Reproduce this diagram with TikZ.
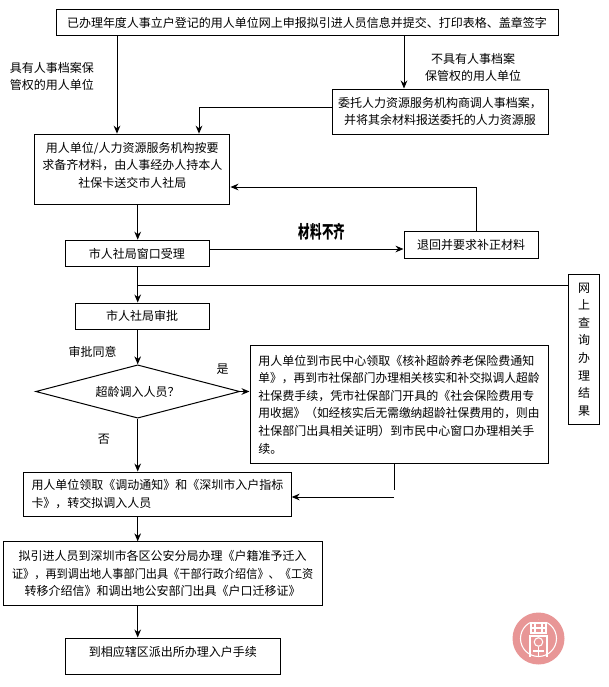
\documentclass[tikz,border=0pt]{standalone}
\usepackage{fontspec}
\setmainfont{Noto Sans CJK SC}
\usetikzlibrary{arrows.meta, shapes.geometric}

\definecolor{sealcolor}{RGB}{232, 150, 150}

\begin{document}
\begin{tikzpicture}[
    x=0.75pt, y=-0.75pt,
    flowbox/.style={draw, line width=0.75pt, inner sep=0pt, align=center, font=\fontsize{9pt}{13.2pt}\selectfont},
    leftbox/.style={flowbox, align=left},
    lift/.style={text depth=#1},
    note/.style={inner sep=0pt, align=center, font=\fontsize{9pt}{13pt}\selectfont},
    link/.style={line width=0.75pt},
    flow/.style={link, -{Stealth[length=6pt, width=5pt]}},
    sealline/.style={white, line width=0.8pt}
]
    \useasboundingbox (0,0) rectangle (609,687);

    % Top of the flow
    \node[flowbox, minimum width=376.5pt, minimum height=20pt] (online) at (307,22.5) {已办理年度人事立户登记的用人单位网上申报拟引进人员信息并提交、打印表格、盖章签字};
    \node[flowbox, minimum width=162pt, minimum height=33.75pt] (agency) at (440,111.5) {委托人力资源服务机构商调人事档案，\\并将其余材料报送委托的人力资源服};
    \node[flowbox, lift=7pt, minimum width=146.5pt, minimum height=53pt] (docs) at (132.3,169.5) {用人单位/人力资源服务机构按要\\求备齐材料，由人事经办人持本人\\社保卡送交市人社局};

    % Window and approval
    \node[flowbox, minimum width=108pt, minimum height=20pt] (window) at (137,253.5) {市人社局窗口受理};
    \node[flowbox, minimum width=100.5pt, minimum height=20.5pt] (back) at (471,244.7) {退回并要求补正材料};
    \node[flowbox, minimum width=100.5pt, minimum height=19.5pt] (review) at (142.2,316) {市人社局审批};
    \node[flowbox, minimum width=23.5pt, minimum height=113pt] (query) at (584,349.5) {网\\上\\查\\询\\办\\理\\结\\果};

    % Decision
    \node[draw, line width=0.75pt, diamond, aspect=3.85, inner sep=0pt, minimum width=153pt, minimum height=40pt, font=\fontsize{9pt}{13pt}\selectfont] (overage) at (137.7,391.5) {超龄调入人员？};
    \node[leftbox, minimum width=223.5pt, minimum height=88pt] (pension) at (399,404.5) {用人单位到市民中心领取《核补超龄养老保险费通知\\\scalebox{0.976}[1]{单》，再到市社保部门办理相关核实和补交拟调人超龄}\\社保费手续，凭市社保部门开具的《社会保险费用专\\\scalebox{0.976}[1]{用收据》（如经核实后无需缴纳超龄社保费用的，则由}\\社保部门出具相关证明）到市民中心窗口办理相关手\\续。};

    % Bottom of the flow
    \node[leftbox, minimum width=200.5pt, minimum height=33pt] (notice) at (157.5,494) {用人单位领取《调动通知》和《深圳市入户指标\\卡》，转交拟调入人员};
    \node[flowbox, minimum width=239pt, minimum height=47.5pt] (police) at (162.7,573.5) {拟引进人员到深圳市各区公安分局办理《户籍准予迁入\\\scalebox{0.93}[1]{证》，再到调出地人事部门出具《干部行政介绍信》、《工资}\\转移介绍信》和调出地公安部门出具《户口迁移证》};
    \node[flowbox, lift=7pt, minimum width=161.5pt, minimum height=27pt] (station) at (173,656) {到相应辖区派出所办理入户手续};

    % Labels
    \node[note] (haslabel) at (52,76.5) {具有人事档案保\\管权的用人单位};
    \node[note] (nolabel) at (473,67.5) {不具有人事档案\\保管权的用人单位};
    \node[font=\fontsize{12pt}{12pt}\selectfont\bfseries, inner sep=0pt] (lacking) at (322,232) {\scalebox{0.72}[1.1]{材料不齐}};
    \node[note] (agreed) at (92.5,352) {审批同意};
    \node[note] (yeslabel) at (222.5,369) {是};
    \node[note] (nonelabel) at (104,439) {否};

    % Named points for the drops
    \coordinate (spine) at (137.7,0);
    \coordinate (leftdrop) at (117,0);
    \coordinate (rightdrop) at (404,0);
    \coordinate (agencydrop) at (199,0);
    \coordinate (backrise) at (476,0);
    \coordinate (pensiondrop) at (394,490);
    \coordinate (noticein) at (394,497);

    % Connectors
    \draw[flow] (online.south -| leftdrop) -- (docs.north -| leftdrop);
    \draw[flow] (online.south -| rightdrop) -- (agency.north -| rightdrop);
    \draw[flow] (agency.west |- 0,107) -| (docs.north -| agencydrop);
    \draw[flow] (docs.south -| spine) -- (window.north -| spine);
    \draw[flow] (window.east |- 0,249) -- (back.west |- 0,249);
    \draw[flow] (back.north -| backrise) |- (docs.east |- 0,187);
    \draw[flow] (window.south -| spine) -- (review.north -| spine);
    \draw[link] (query.west |- 0,285) -- (spine |- 0,285);
    \draw[flow] (review.south -| spine) -- (overage.north);
    \draw[flow] (overage.east) -- (pension.west |- overage.east);
    \draw[flow] (overage.south) -- (notice.north -| spine);
    \draw[link] (pension.south -| pensiondrop) -- (pensiondrop);
    \draw[flow] (noticein) -- (notice.east |- noticein);
    \draw[flow] (notice.south -| spine) -- (police.north -| spine);
    \draw[flow] (police.south -| spine) -- (station.north -| spine);

    % Seal
    \fill[sealcolor] (538.5,638.5) circle[radius=19.5pt];
    \draw[sealline] (538.5,638.5) circle[radius=13.5pt];
    \fill[sealcolor] (530,620) rectangle (547,634);
    \draw[sealline] (531,623) rectangle (546,633);
    \draw[sealline] (535,623) -- (535,633) (542,623) -- (542,633) (531,628) -- (546,628);
    \draw[sealline] (530,657) -- (530,636) -- (547,636) -- (547,657);
    \draw[sealline] (538.5,642) circle[radius=3.2pt];
    \draw[sealline] (538.5,646.5) -- (538.5,657) (533,651) -- (544,651);

\end{tikzpicture}
\end{document}
